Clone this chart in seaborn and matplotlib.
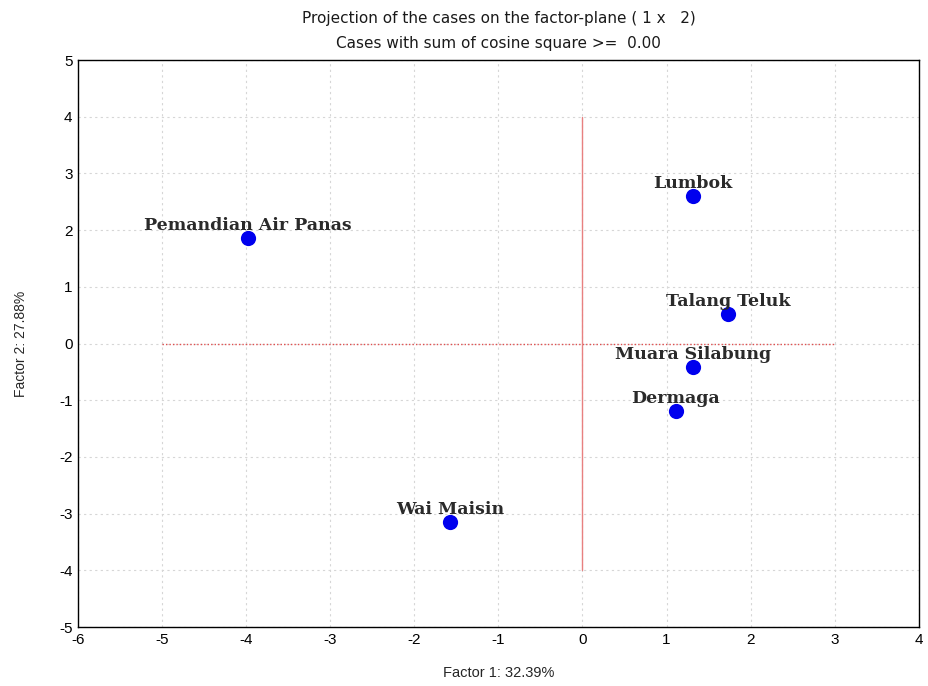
import matplotlib
matplotlib.use("Agg")
import matplotlib.pyplot as plt
import seaborn as sns
import pandas as pd

cases = ["Pemandian Air Panas", "Lumbok", "Talang Teluk", "Muara Silabung", "Dermaga", "Wai Maisin"]
factor1 = [-3.98, 1.31, 1.73, 1.31, 1.11, -1.57]
factor2 = [1.86, 2.60, 0.52, -0.41, -1.19, -3.15]
xticks = [-6, -5, -4, -3, -2, -1, 0, 1, 2, 3, 4]
yticks = [-5, -4, -3, -2, -1, 0, 1, 2, 3, 4, 5]

df = pd.DataFrame({"case": cases, "f1": factor1, "f2": factor2})

sns.set_theme(style="white")
plt.rcParams["font.family"] = ["Liberation Sans", "DejaVu Sans"]
plt.rcParams["axes.unicode_minus"] = False

fig = plt.figure(figsize=(9.29, 6.86), dpi=100)
ax = fig.add_axes([0.084, 0.086, 0.905, 0.8265])

for v in xticks:
    ax.axvline(v, color="#d6d6d6", lw=0.8, ls=(0, (2, 3)), zorder=0)
for v in yticks:
    ax.axhline(v, color="#d6d6d6", lw=0.8, ls=(0, (2, 3)), zorder=0)

ax.plot([-5, 3], [0, 0], color="#e05050", lw=1.0, ls=(0, (1, 1.5)), zorder=1)
ax.plot([0, 0], [-4, 4], color="#e88080", lw=1.0, zorder=1)

sns.scatterplot(data=df, x="f1", y="f2", ax=ax, color="#0000ee", s=120,
                edgecolor="#0000ee", linewidth=0, zorder=3, legend=False)

for c, x, y in zip(cases, factor1, factor2):
    ax.annotate(c, (x, y), xytext=(0, 3), textcoords="offset points",
                ha="center", va="bottom", family=["DejaVu Serif"],
                fontsize=12.5, fontweight="bold", color="#2a2a2a", zorder=4)

ax.set_xlim(-6, 4)
ax.set_ylim(-5, 5)
ax.set_xticks(xticks)
ax.set_yticks(yticks)
ax.tick_params(direction="in", length=4, labelsize=11, colors="black", pad=4)
for s in ax.spines.values():
    s.set_color("black")
    s.set_linewidth(1.0)

ax.set_xlabel("Factor 1: 32.39%", fontsize=10.5, labelpad=14)
ax.set_ylabel("Factor 2: 27.88%", fontsize=10, labelpad=22)
ax.set_title("Projection of the cases on the factor-plane ( 1 x   2)\nCases with sum of cosine square >=  0.00",
             fontsize=11, pad=9, linespacing=1.8, family=["DejaVu Sans"], color="#1a1a1a")

fig.savefig("out.png", dpi=100)
